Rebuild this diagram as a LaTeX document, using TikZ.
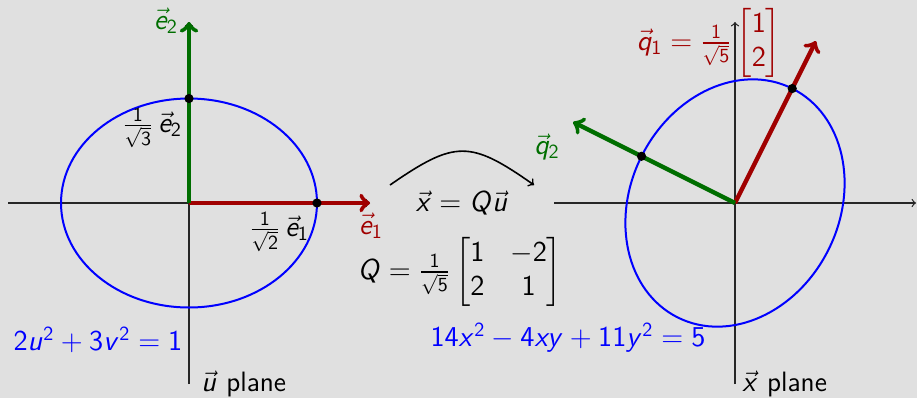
\documentclass[tikz,border=0pt]{standalone}
\usepackage{amsmath}
\DeclareSymbolFont{operators}{OT1}{cmss}{m}{n}
\DeclareSymbolFont{sfletters}{OT1}{cmss}{m}{sl}
\DeclareMathSymbol{e}{\mathalpha}{sfletters}{`e}
\DeclareMathSymbol{q}{\mathalpha}{sfletters}{`q}
\DeclareMathSymbol{u}{\mathalpha}{sfletters}{`u}
\DeclareMathSymbol{v}{\mathalpha}{sfletters}{`v}
\DeclareMathSymbol{x}{\mathalpha}{sfletters}{`x}
\DeclareMathSymbol{y}{\mathalpha}{sfletters}{`y}
\DeclareMathSymbol{Q}{\mathalpha}{sfletters}{`Q}
\definecolor{bg}{RGB}{224,224,224}
\definecolor{vred}{RGB}{160,0,0}
\definecolor{vgreen}{RGB}{0,110,0}
\begin{document}
\begin{tikzpicture}[x=0.5pt,y=-0.5pt,
  every node/.style={font=\fontsize{14}{17}\selectfont\sffamily, inner sep=0pt},
  axis/.style={line width=0.6pt, black!85, ->},
  ell/.style={line width=1pt, blue},
  vecarrow/.style={line width=2.2pt, ->},
  dot/.style={circle, fill=black, minimum size=4.6pt, inner sep=0pt}]
\path[fill=bg] (0,0) rectangle (917,398);
% ---------------- left plane
\begin{scope}[shift={(189,203)}, x=90.5pt, y=90.5pt]
  \coordinate (O1) at (0,0);
  \coordinate (L1w) at (-1,0);
  \coordinate (L1e) at (1,0);
  \coordinate (L1s) at (0,-1);
  \coordinate (L1n) at (0,1);
  \draw[axis] (L1w) -- (L1e);
  \draw[axis] (L1s) -- (L1n);
  \draw[ell] (O1) ellipse [x radius=0.70711, y radius=0.57735];
  \draw[vecarrow, vred] (O1) -- (L1e);
  \draw[vecarrow, vgreen] (O1) -- (L1n);
  \node[dot] (d1) at (0.70711,0) {};
  \node[dot] (d2) at (0,0.57735) {};
\end{scope}
% ---------------- right plane
\begin{scope}[shift={(735,203)}, x=90.5pt, y=90.5pt]
  \coordinate (O2) at (0,0);
  \coordinate (R1w) at (-1,0);
  \coordinate (R1e) at (1,0);
  \coordinate (R1s) at (0,-1);
  \coordinate (R1n) at (0,1);
  \coordinate (Q1) at (0.44721,0.89443);
  \coordinate (Q2) at (-0.89443,0.44721);
  \draw[axis] (R1w) -- (R1e);
  \draw[axis] (R1s) -- (R1n);
  \draw[ell, rotate=63.435] (O2) ellipse [x radius=0.70711, y radius=0.57735];
  \draw[vecarrow, vred] (O2) -- (Q1);
  \draw[vecarrow, vgreen] (O2) -- (Q2);
  \node[dot] (d3) at (0.31623,0.63246) {};
  \node[dot] (d4) at (-0.51640,0.25820) {};
\end{scope}
% ---------------- labels left
\node[text=vgreen] (le2) at (166,21) {$\vec{e}_2$};
\node[text=vred] (le1) at (371,226) {$\vec{e}_1$};
\node (lhe1) at (279,232) {$\frac{1}{\sqrt{2}}\,\vec{e}_1$};
\node (lhe2) at (152,128) {$\frac{1}{\sqrt{3}}\,\vec{e}_2$};
\node[text=blue] (eqL) at (98,340) {$2u^2+3v^2=1$};
\node[anchor=west] (uplane) at (201,384) {$\vec{u}$ plane};
% ---------------- middle
\coordinate (cA) at (390,185);
\coordinate (cB) at (534,185);
\draw[line width=0.8pt, ->] (cA) .. controls (455,140) and (470,140) .. (cB);
\node (xQu) at (462,203) {$\vec{x}=Q\vec{u}$};
\node (Qmat) at (460,272) {\arraycolsep=6.5pt$Q=\frac{1}{\sqrt{5}}\begin{bmatrix}1 & -2\\ 2 & 1\end{bmatrix}$};
\node[text=blue] (eqR) at (568,338) {$14x^2-4xy+11y^2=5$};
% ---------------- labels right
\node[text=vred] (lq1) at (709,43) {$\vec{q}_1=\frac{1}{\sqrt{5}}\begin{bmatrix}1\\ 2\end{bmatrix}$};
\node[text=vgreen] (lq2) at (547,147) {$\vec{q}_2$};
\node[anchor=west] (xplane) at (742,384) {$\vec{x}$ plane};
\end{tikzpicture}
\end{document}
